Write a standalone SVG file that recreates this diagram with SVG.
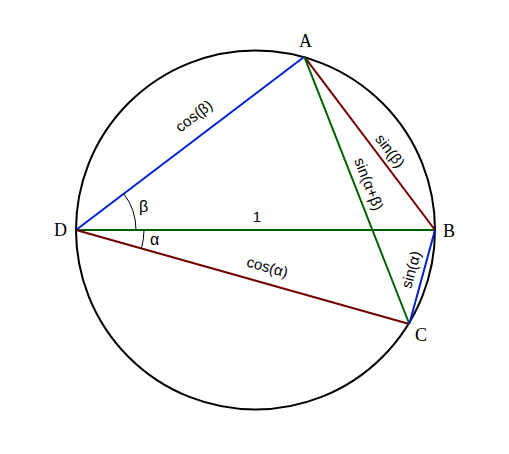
<svg xmlns="http://www.w3.org/2000/svg" width="509" height="454" viewBox="0 0 509 454">
<style>
.pt{font-family:"Liberation Serif",serif;font-size:18px;fill:#000}
.lb{font-family:"Liberation Sans",Arial,sans-serif;font-size:15px;fill:#000;text-anchor:middle}
.gr{font-family:"Liberation Sans",Arial,sans-serif;font-size:16px;fill:#000}
line{stroke-width:2;fill:none}
</style>
<rect width="509" height="454" fill="#fff"/>
<g id="circle"><circle cx="255.5" cy="230" r="179.5" fill="none" stroke="#000" stroke-width="2"/></g>
<g id="connectors">
<line x1="76" y1="230" x2="304.3" y2="56.7" stroke="#0022cc"/>
<line x1="76" y1="230" x2="435" y2="230" stroke="#006000"/>
<line x1="76" y1="230" x2="409.3" y2="324" stroke="#700000"/>
<line x1="304.3" y1="56.7" x2="435" y2="230" stroke="#700000"/>
<line x1="304.3" y1="56.7" x2="409.3" y2="324" stroke="#006000"/>
<line x1="435" y1="230" x2="409.3" y2="324" stroke="#0022cc"/>
<path d="M123.8,193.7 A60,60 0 0 1 136,230" fill="none" stroke="#000" stroke-width="1"/>
<path d="M144,230 A68,68 0 0 1 141.4,248.5" fill="none" stroke="#000" stroke-width="1"/>
</g>
<g id="A"><text class="pt" x="299" y="47">A</text></g>
<g id="B"><text class="pt" x="443" y="237">B</text></g>
<g id="C"><text class="pt" x="415" y="341">C</text></g>
<g id="D"><text class="pt" x="54" y="236">D</text></g>
<g id="labels">
<text class="gr" x="139" y="212">β</text>
<text class="gr" x="150" y="245">α</text>
<text class="lb" x="257" y="222">1</text>
<text class="lb" transform="translate(197,120) rotate(-37.2)">cos(β)</text>
<text class="lb" transform="translate(386,154) rotate(52.9)">sin(β)</text>
<text class="lb" transform="translate(364,186) rotate(68.5)">sin(α+β)</text>
<text class="lb" transform="translate(416,271) rotate(-74.5)">sin(α)</text>
<text class="lb" transform="translate(266,272) rotate(15.8)">cos(α)</text>
</g>
</svg>
